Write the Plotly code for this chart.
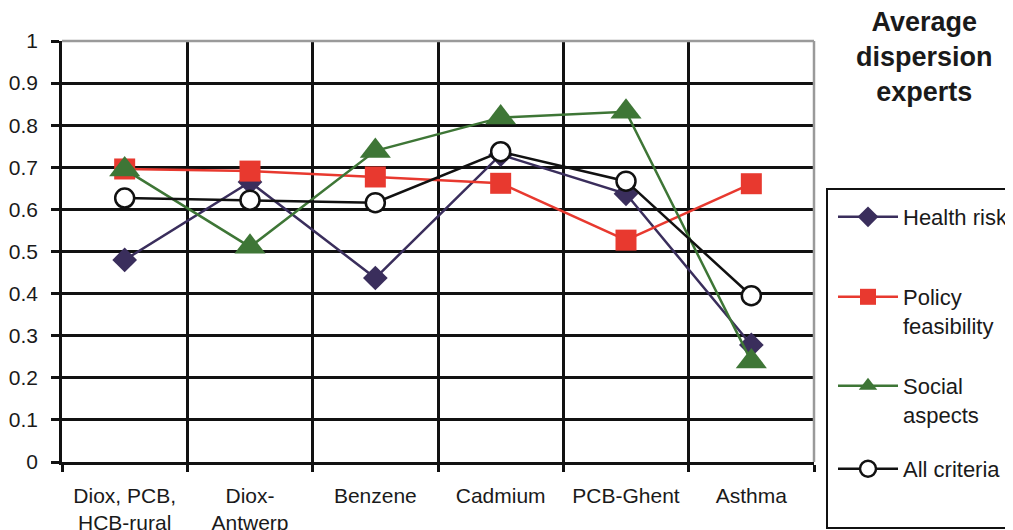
import plotly.graph_objects as go

categories = ["Diox, PCB,<br>HCB-rural", "Diox-<br>Antwerp", "Benzene", "Cadmium", "PCB-Ghent", "Asthma"]
health_risk = [0.48, 0.665, 0.437, 0.73, 0.637, 0.278]
policy_feasibility = [0.696, 0.691, 0.677, 0.662, 0.527, 0.661]
social_aspects = [0.695, 0.511, 0.739, 0.818, 0.832, 0.239]
all_criteria = [0.627, 0.622, 0.616, 0.737, 0.667, 0.395]
y_ticks = [0, 0.1, 0.2, 0.3, 0.4, 0.5, 0.6, 0.7, 0.8, 0.9, 1]

# the page body has an 8px margin; the figure canvas starts at (8, 8)
OFF = 8
W, H = 1013 - OFF, 530 - OFF
PL, PR, PT, PB = 62, 814, 41, 462  # plot area in page pixels
L, R, T, B = PL - OFF, W - (PR - OFF), PT - OFF, H - (PB - OFF)
pw = PR - PL
ph = PB - PT

def px_x(x):
    return (x - PL) / pw

def px_y(y):
    return (PB - y) / ph

FONT = "Liberation Sans, Arial, sans-serif"

fig = go.Figure()
fig.add_trace(go.Scatter(
    x=categories, y=health_risk, name="Health risk", mode="lines+markers",
    line=dict(color="#3a2e5c", width=2.5),
    marker=dict(symbol="diamond", size=19, color="#3a2e5c"),
    legend="legend"))
fig.add_trace(go.Scatter(
    x=categories, y=policy_feasibility, name="Policy<br>feasibility", mode="lines+markers",
    line=dict(color="#e8392f", width=2.5),
    marker=dict(symbol="square", size=21, color="#e8392f"),
    legend="legend2"))
fig.add_trace(go.Scatter(
    x=categories, y=social_aspects, name="Social<br>aspects", mode="lines+markers",
    line=dict(color="#3e7636", width=2.5),
    marker=dict(symbol="triangle-up", size=27, color="#3e7636"),
    legend="legend3"))
fig.add_trace(go.Scatter(
    x=categories, y=all_criteria, name="All criteria", mode="lines+markers",
    line=dict(color="#111111", width=2.5),
    marker=dict(symbol="circle", size=19, color="white", line=dict(color="#111111", width=2.5)),
    legend="legend4"))

def leg(top):
    return dict(
        x=px_x(833), y=px_y(top), xanchor="left", yanchor="top",
        font=dict(family=FONT, size=22, color="#1a1a1a"),
        bgcolor="rgba(0,0,0,0)", borderwidth=0, valign="top", itemwidth=60,
    )

fig.update_layout(
    width=W, height=H,
    margin=dict(l=L, r=R, t=T, b=B, pad=0, autoexpand=False),
    paper_bgcolor="white", plot_bgcolor="white",
    font=dict(family=FONT, size=20, color="#1a1a1a"),
    showlegend=True,
    legend=leg(196),
    legend2=leg(276),
    legend3=leg(365),
    legend4=leg(448),
    xaxis=dict(
        type="category", tickson="boundaries", automargin=False,
        showgrid=True, gridcolor="#111111", gridwidth=2.5,
        showline=True, linecolor="#111111", linewidth=2.5,
        ticks="outside", ticklen=7, tickwidth=2.5, tickcolor="#111111",
        tickfont=dict(family=FONT, size=21, color="#1a1a1a"),
        ticklabelstandoff=13,
        range=[-0.5, 5.5], zeroline=False,
    ),
    yaxis=dict(
        range=[0, 1], tickvals=y_ticks, automargin=False,
        showgrid=True, gridcolor="#111111", gridwidth=2.5,
        showline=True, linecolor="#111111", linewidth=2.5,
        ticks="outside", ticklen=8, tickwidth=2.5, tickcolor="#111111",
        tickfont=dict(family=FONT, size=21, color="#1a1a1a"),
        ticklabelstandoff=9, zeroline=False,
    ),
    shapes=[
        dict(type="line", xref="paper", yref="paper", x0=0, x1=1, y0=1, y1=1,
             line=dict(color="#9a9a9a", width=2.5), layer="above"),
        dict(type="line", xref="paper", yref="paper", x0=1, x1=1, y0=0, y1=1,
             line=dict(color="#9a9a9a", width=2.5), layer="above"),
        dict(type="rect", xref="paper", yref="paper",
             x0=px_x(827), x1=px_x(1030), y0=px_y(528), y1=px_y(189),
             line=dict(color="#111111", width=2), fillcolor="rgba(0,0,0,0)"),
    ],
    annotations=[
        dict(text="<b>Average<br>dispersion<br>experts</b>", xref="paper", yref="paper",
             x=px_x(925), y=px_y(5), xanchor="center", yanchor="top", showarrow=False,
             align="center", font=dict(family=FONT, size=27, color="#1a1a1a")),
    ],
)

fig.write_html("out.html")
